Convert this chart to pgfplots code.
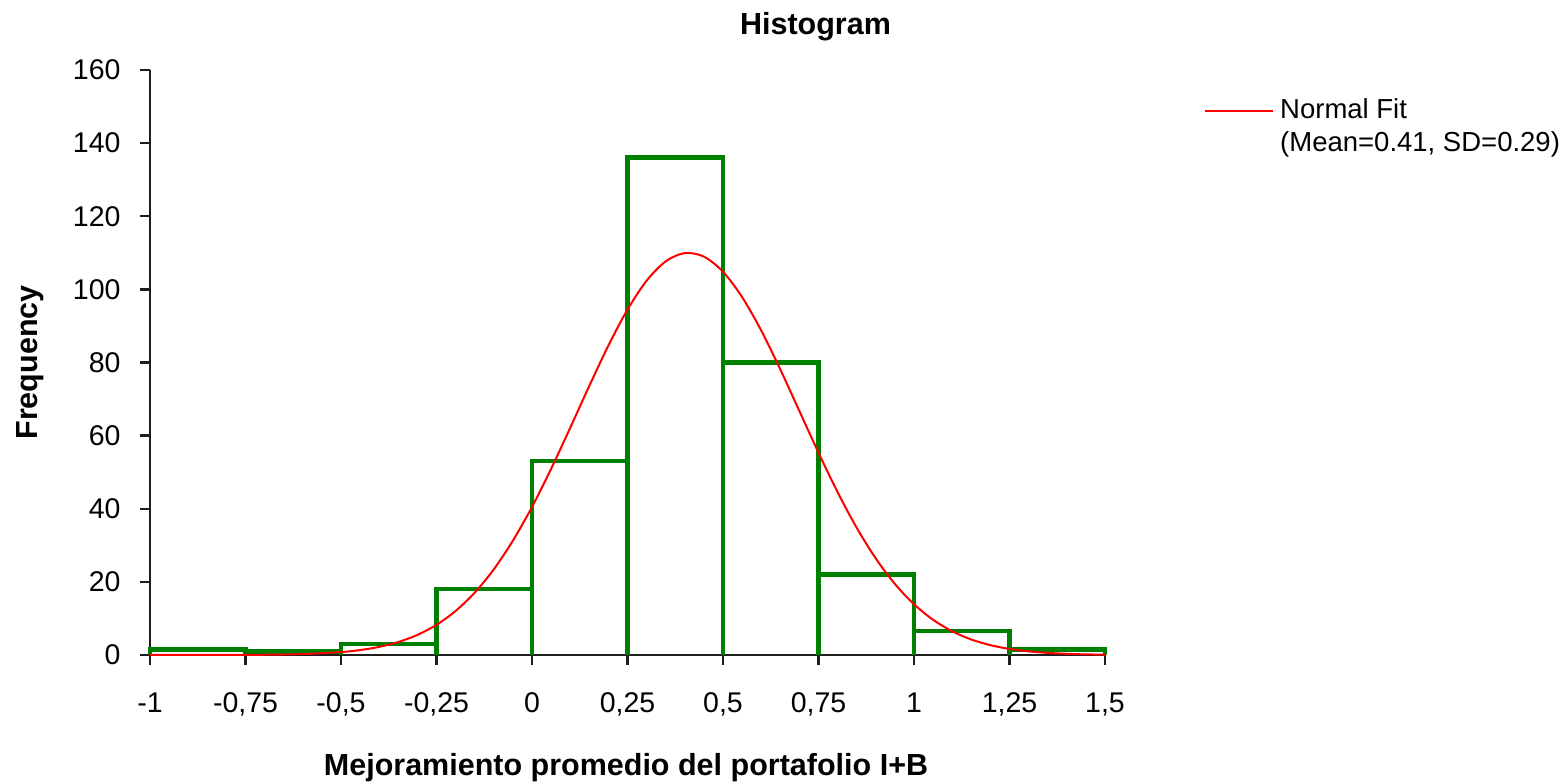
\documentclass[border=0pt]{standalone}
\usepackage{pgfplots}
\pgfplotsset{compat=1.18}
\usepackage{fontspec}
\setmainfont{Liberation Sans}
\definecolor{histgreen}{RGB}{0,128,0}
\definecolor{fitred}{RGB}{255,0,0}
\definecolor{axblack}{RGB}{30,30,30}

\pgfplotstableread{
x y
-1 1.5
-0.75 1
-0.5 3
-0.25 18
0 53
0.25 136
0.5 80
0.75 22
1 6.5
1.25 1.5
1.5 1.5
}\histtop

\pgfplotstableread{
x y
-1 1.5
-0.75 1.5
-0.5 3
-0.25 18
0 53
0.25 136
0.5 136
0.75 80
1 22
1.25 6.5
1.5 1.5
}\histedges

\pgfplotstableread{
x y
-1 0.001
-0.9 0.004
-0.8 0.018
-0.7 0.072
-0.6 0.255
-0.5 0.80
-0.45 1.35
-0.4 2.22
-0.35 3.55
-0.3 5.49
-0.25 8.25
-0.2 12.04
-0.15 17.04
-0.1 23.43
-0.05 31.27
0 40.49
0.05 50.91
0.1 62.13
0.15 73.60
0.2 84.64
0.25 94.47
0.3 102.37
0.35 107.67
0.4 109.93
0.45 108.96
0.5 104.83
0.55 97.90
0.6 88.76
0.65 78.11
0.7 66.72
0.75 55.32
0.8 44.53
0.85 34.79
0.9 26.39
0.95 19.43
1.0 13.88
1.05 9.63
1.1 6.49
1.15 4.24
1.2 2.69
1.25 1.66
1.3 0.99
1.35 0.58
1.4 0.32
1.45 0.17
1.5 0.09
}\fitcurve

\begin{document}
\begin{tikzpicture}[x=1pt,y=1pt]
\useasboundingbox (0,0) rectangle (1565,782);
\begin{axis}[
  at={(150pt,127pt)}, anchor=south west,
  scale only axis, width=955pt, height=585pt,
  xmin=-1, xmax=1.5, ymin=0, ymax=160,
  axis x line=bottom, axis y line=left,
  axis line style={-, line width=2.5pt, axblack},
  tick align=outside, major tick length=10pt,
  tick style={line width=2.5pt, axblack},
  xtick={-1,-0.75,-0.5,-0.25,0,0.25,0.5,0.75,1,1.25,1.5},
  xticklabels={{-1},{-0,75},{-0,5},{-0,25},{0},{0,25},{0,5},{0,75},{1},{1,25},{1,5}},
  ytick={0,20,40,60,80,100,120,140,160},
  /pgf/number format/assume math mode=true,
  ticklabel style={font=\fontsize{28.5}{34}\selectfont, text=black},
  xticklabel shift=24pt,
  yticklabel shift=16pt,
  clip=false,
]
\addplot[const plot, draw=histgreen, line width=4.5pt, line cap=rect, line join=miter] table[x=x,y=y] {\histtop};
\addplot[ycomb, draw=histgreen, line width=4.5pt, mark=none] table[x=x,y=y] {\histedges};
\addplot[draw=fitred, line width=2pt, smooth, mark=none] table[x=x,y=y] {\fitcurve};
\end{axis}
\node[anchor=base, font=\bfseries\fontsize{30.5}{36}\selectfont] at (815.5,747.7) {Histogram};
\node[anchor=base, font=\bfseries\fontsize{30.5}{36}\selectfont] at (626,6.5) {Mejoramiento promedio del portafolio I+B};
\node[anchor=base, rotate=90, font=\bfseries\fontsize{30.5}{36}\selectfont] at (37,419.5) {Frequency};
\draw[fitred, line width=2pt] (1205,671.3) -- (1273,671.3);
\node[anchor=base west, inner sep=0pt, font=\fontsize{27.5}{33}\selectfont] at (1280,663) {Normal Fit};
\node[anchor=base west, inner sep=0pt, font=\fontsize{27.5}{33}\selectfont] at (1280,630.3) {(Mean=0.41, SD=0.29)};
\end{tikzpicture}
\end{document}
